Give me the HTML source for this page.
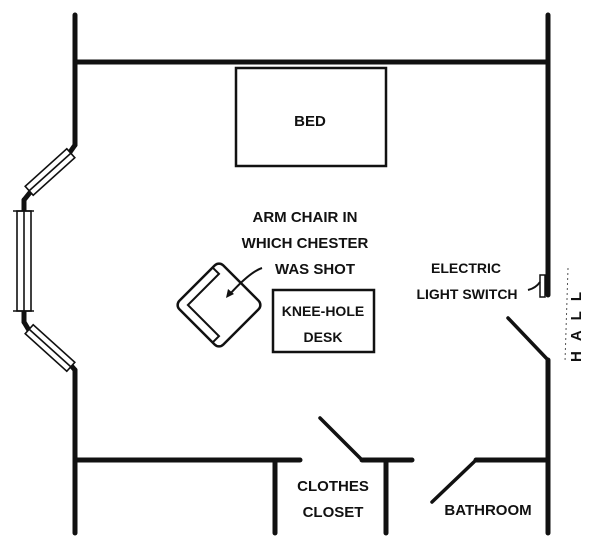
<!DOCTYPE html>
<html><head><style>
body{margin:0;background:#fff}
svg text{font-family:"Liberation Sans",sans-serif;font-weight:bold;fill:#111}
</style></head><body>
<svg width="600" height="548" viewBox="0 0 600 548" xmlns="http://www.w3.org/2000/svg">
<g stroke="#111" stroke-width="5" fill="none" stroke-linecap="round">
<line x1="75" y1="15" x2="75" y2="145"/>
<line x1="75" y1="62" x2="548" y2="62"/>
<line x1="548" y1="15" x2="548" y2="295"/>
<line x1="548" y1="360" x2="548" y2="533"/>
<line x1="75" y1="370" x2="75" y2="533"/>
<line x1="75" y1="460" x2="300" y2="460"/>
<line x1="362" y1="460" x2="412" y2="460"/>
<line x1="476" y1="460" x2="548" y2="460"/>
<line x1="275" y1="460" x2="275" y2="533"/>
<line x1="386" y1="460" x2="386" y2="533"/>
<line x1="75" y1="145" x2="68" y2="155"/>
<line x1="75" y1="370" x2="68" y2="362"/>
<line x1="32" y1="190" x2="24" y2="200"/>
<line x1="24" y1="200" x2="24" y2="210"/>
<line x1="24" y1="312" x2="24" y2="322"/>
<line x1="24" y1="322" x2="30" y2="332"/>
</g>
<g stroke="#111" stroke-width="3.5" fill="none" stroke-linecap="round">
<line x1="508" y1="318" x2="548" y2="360"/>
<line x1="320" y1="418" x2="362" y2="460"/>
<line x1="432" y1="502" x2="476" y2="460"/>
</g>
<g stroke="#111" stroke-width="1.6" fill="#fff">
<rect x="17" y="211" width="14" height="100"/>
<line x1="24" y1="211" x2="24" y2="311"/>
<line x1="13" y1="211" x2="34" y2="211"/>
<line x1="13" y1="311" x2="34" y2="311"/>
<g transform="translate(50,172) rotate(-42)"><rect x="-28" y="-6" width="56" height="12"/><line x1="-28" y1="0" x2="28" y2="0"/></g>
<g transform="translate(50,348) rotate(42)"><rect x="-28" y="-6" width="56" height="12"/><line x1="-28" y1="0" x2="28" y2="0"/></g>
</g>
<rect x="236" y="68" width="150" height="98" fill="none" stroke="#111" stroke-width="2.5"/>
<rect x="273" y="290" width="101" height="62" fill="none" stroke="#111" stroke-width="2.5"/>
<g transform="translate(219,305) rotate(45)" stroke="#111" fill="none" stroke-width="2.5">
<rect x="-31" y="-31" width="62" height="62" rx="6"/>
<path d="M-31,-22 L-22,-22 L-22,22 L22,22 L22,31" stroke-width="2"/>
</g>
<path d="M262,268 Q250,272 230,294" stroke="#111" stroke-width="2" fill="none"/>
<path d="M226,298 l2,-9 l6,5 z" fill="#111"/>
<path d="M528,290 q8,-2 12,-8" stroke="#111" stroke-width="2" fill="none"/>
<rect x="540" y="275" width="5" height="22" fill="none" stroke="#111" stroke-width="1.5"/>
<g font-size="15">
<text x="310" y="126" text-anchor="middle">BED</text>
<text x="305" y="222" text-anchor="middle">ARM CHAIR IN</text>
<text x="305" y="248" text-anchor="middle">WHICH CHESTER</text>
<text x="315" y="274" text-anchor="middle">WAS SHOT</text>
<text x="323" y="316" text-anchor="middle" font-size="14">KNEE-HOLE</text>
<text x="323" y="342" text-anchor="middle" font-size="14">DESK</text>
<text x="466" y="273" text-anchor="middle" font-size="14">ELECTRIC</text>
<text x="467" y="299" text-anchor="middle" font-size="14">LIGHT SWITCH</text>
<text x="333" y="491" text-anchor="middle">CLOTHES</text>
<text x="333" y="517" text-anchor="middle">CLOSET</text>
<text x="488" y="515" text-anchor="middle">BATHROOM</text>
<text transform="translate(581,362) rotate(-90)" font-size="15" letter-spacing="10">HALL</text>
</g>
<path d="M568,268 L565,362" stroke="#555" stroke-width="1" stroke-dasharray="2,3" fill="none"/>
</svg>
</body></html>
